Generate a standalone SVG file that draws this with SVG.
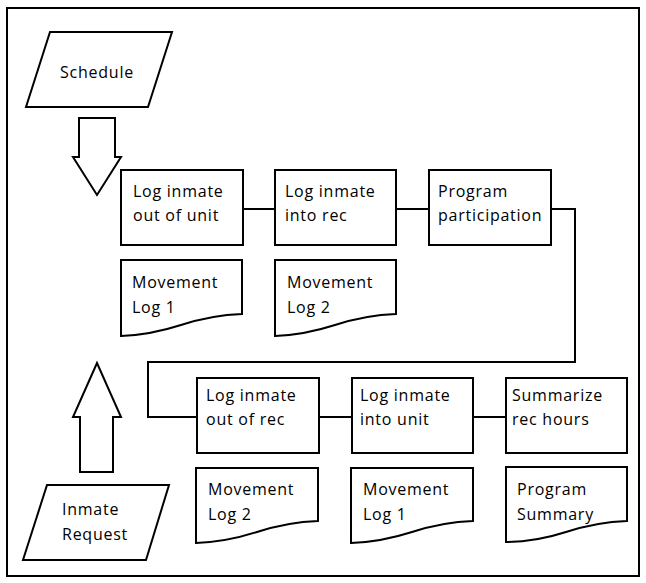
<svg xmlns="http://www.w3.org/2000/svg" width="646" height="583" viewBox="0 0 646 583">
<style>
.s{fill:#fff;stroke:#000;stroke-width:2}
.c{fill:none;stroke:#000;stroke-width:2}
text{font-family:"Open Sans","Noto Sans",sans-serif;font-size:16px;letter-spacing:0.75px;fill:#000}
</style>
<rect x="7" y="8" width="632" height="568" fill="#fff" stroke="#000" stroke-width="2"/>
<g id="schedule"><polygon class="s" points="50,32 172,32 148,107 26,107"/><text x="97" y="78" text-anchor="middle">Schedule</text></g>
<g id="arrow-down"><polygon class="s" points="79,118 115,118 115,157 121,157 97,195 73,157 79,157"/></g>
<g id="connectors">
<line class="c" x1="243" y1="209" x2="275" y2="209"/>
<line class="c" x1="396" y1="209" x2="429" y2="209"/>
<polyline class="c" points="551,209 575,209 575,362 148,362 148,417 197,417"/>
<line class="c" x1="319" y1="417" x2="352" y2="417"/>
<line class="c" x1="473" y1="417" x2="506" y2="417"/>
</g>
<g id="p1"><rect class="s" x="121" y="170" width="122" height="75"/><text x="133" y="197">Log inmate</text><text x="133" y="221">out of unit</text></g>
<g id="p2"><rect class="s" x="275" y="170" width="121" height="75"/><text x="285" y="197">Log inmate</text><text x="285" y="221">into rec</text></g>
<g id="p3"><rect class="s" x="429" y="170" width="122" height="75"/><text x="438" y="197">Program</text><text x="438" y="221">participation</text></g>
<g id="d1"><path class="s" d="M121,260 H242 V314 Q212,315 181,325 T121,336 Z"/><text x="132" y="288">Movement</text><text x="132" y="313">Log 1</text></g>
<g id="d2"><path class="s" d="M275,260 H396 V314 Q366,315 335,325 T275,336 Z"/><text x="287" y="288">Movement</text><text x="287" y="313">Log 2</text></g>
<g id="arrow-up"><polygon class="s" points="80,472 113,472 113,417 121,417 97,363 73,417 80,417"/></g>
<g id="request"><polygon class="s" points="47,485 169,485 146,560 23,560"/><text x="62" y="515">Inmate</text><text x="62" y="540">Request</text></g>
<g id="p4"><rect class="s" x="197" y="378" width="122" height="75"/><text x="206" y="401">Log inmate</text><text x="206" y="425">out of rec</text></g>
<g id="p5"><rect class="s" x="352" y="378" width="121" height="75"/><text x="360" y="401">Log inmate</text><text x="360" y="425">into unit</text></g>
<g id="p6"><rect class="s" x="506" y="378" width="121" height="75"/><text x="512" y="401">Summarize</text><text x="512" y="425">rec hours</text></g>
<g id="d4"><path class="s" d="M196,468 H318 V521 Q288,522 257,532 T196,543 Z"/><text x="208" y="495">Movement</text><text x="208" y="520">Log 2</text></g>
<g id="d5"><path class="s" d="M351,468 H473 V521 Q443,522 412,532 T351,543 Z"/><text x="363" y="495">Movement</text><text x="363" y="520">Log 1</text></g>
<g id="d6"><path class="s" d="M506,467 H627 V521 Q597,522 566,532 T506,542 Z"/><text x="517" y="495">Program</text><text x="517" y="520">Summary</text></g>
</svg>
